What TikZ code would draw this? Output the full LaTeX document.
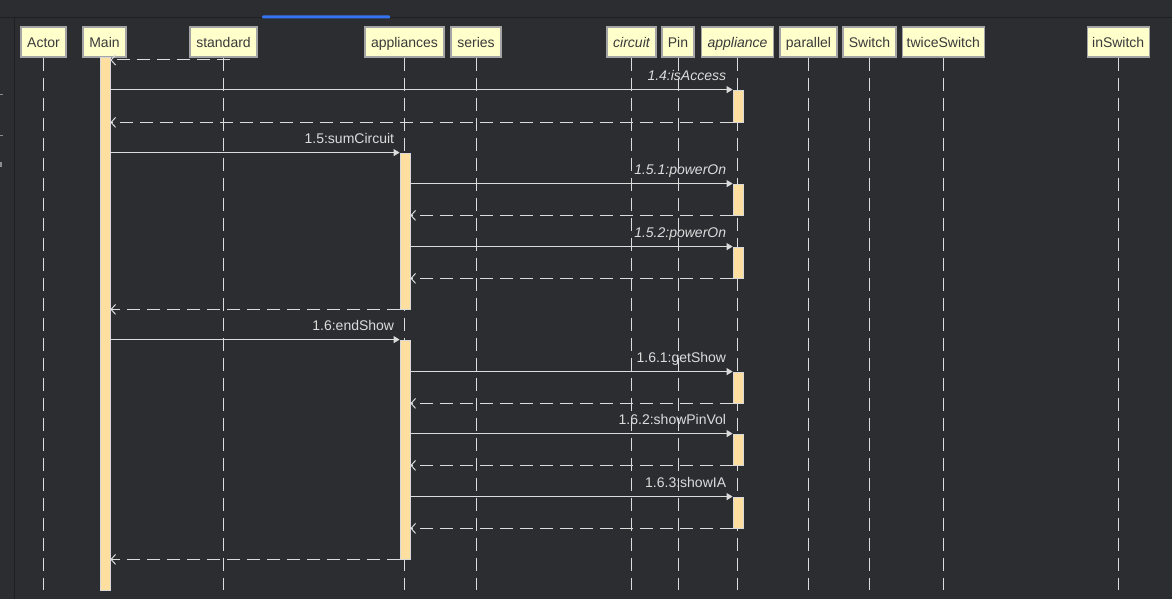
\documentclass[tikz,border=0pt]{standalone}
\usepackage{fontspec}
\setmainfont{Liberation Sans}
\usetikzlibrary{arrows.meta}
\definecolor{bg}{HTML}{2B2D30}
\definecolor{sep}{HTML}{1E1F22}
\definecolor{tabblue}{HTML}{3574F0}
\definecolor{hdrfill}{HTML}{FFFFCC}
\definecolor{hdrdraw}{HTML}{A4A4A4}
\definecolor{hdrtext}{HTML}{3A3A3A}
\definecolor{barfill}{HTML}{FFDFA0}
\definecolor{bardraw}{HTML}{D8D8D8}
\definecolor{linec}{HTML}{DCDCDC}
\definecolor{tickc}{HTML}{8A8C90}
\begin{document}
\begin{tikzpicture}[x=1pt,y=-1pt,font=\fontsize{14}{16}\selectfont,
  hdr/.style={draw=hdrdraw,line width=1.3pt,fill=hdrfill,text=hdrtext,minimum height=30,inner sep=0,text height=12pt,text depth=0pt},
  life/.style={draw=linec,line width=1pt,dash pattern=on 13pt off 7pt},
  actbar/.style={draw=bardraw,line width=0.8pt,fill=barfill,minimum width=10,inner sep=0},
  call/.style={draw=linec,line width=1pt,-{Triangle[length=6pt,width=7pt]}},
  ret/.style={draw=linec,line width=1pt,dash pattern=on 13pt off 7pt,-{Straight Barb[length=4.5pt,width=10pt]}},
  lbl/.style={text=linec,inner sep=0,anchor=base east,xshift=-6pt,yshift=9pt},
  ilbl/.style={lbl,font=\fontsize{14}{16}\selectfont\itshape}]
\useasboundingbox (0,0) rectangle (1172,599);
% window background
\fill[bg] (0,0) rectangle (1172,599);
\draw[sep,line width=1.6pt] (0,17.5) -- (1172,17.5);
\fill[tabblue,rounded corners=1pt] (262,15.5) rectangle (390,18.5);
\draw[sep,line width=1.2pt] (14.5,18.5) -- (14.5,599);
\draw[tickc,line width=1pt] (0,95) -- (3,95);
\draw[tickc,line width=1pt] (0,136) -- (3,136);
\draw[tickc,line width=1.5pt] (1,162) -- (1,167);
% headers
\node[hdr,minimum width=45] (actor) at (43.5,42) {Actor};
\node[hdr,minimum width=43] (main) at (104.5,42) {Main};
\node[hdr,minimum width=67] (standard) at (223.5,42) {standard};
\node[hdr,minimum width=79] (appls) at (404.5,42) {appliances};
\node[hdr,minimum width=50] (series) at (476,42) {series};
\node[hdr,minimum width=49] (circuit) at (631.5,42) {\itshape circuit};
\node[hdr,minimum width=32] (pin) at (678,42) {Pin};
\node[hdr,minimum width=72] (appl) at (737.5,42) {\itshape appliance};
\node[hdr,minimum width=57] (parallel) at (808.5,42) {parallel};
\node[hdr,minimum width=53] (switch) at (869.5,42) {Switch};
\node[hdr,minimum width=82] (twice) at (943.3,42) {twiceSwitch};
\node[hdr,minimum width=62] (inswitch) at (1118.2,42) {inSwitch};
% lifelines
\coordinate (bot) at (0,590);
\foreach \n in {actor,main,standard,appls,series,circuit,pin,appl,parallel,switch,twice,inswitch}
  \draw[life] (\n.south) -- (\n.south |- bot);
% activation bars
\node[actbar,minimum height=533] (mb) at (105,323.5) {};
\node[actbar,minimum height=156] (b1) at (405,231) {};
\node[actbar,minimum height=219] (b2) at (405,449.5) {};
\node[actbar,minimum height=32] (a1) at (738,106) {};
\node[actbar,minimum height=31] (a2) at (738,199.5) {};
\node[actbar,minimum height=31] (a3) at (738,262.5) {};
\node[actbar,minimum height=31] (a4) at (738,387.5) {};
\node[actbar,minimum height=31] (a5) at (738,449.5) {};
\node[actbar,minimum height=31] (a6) at (738,512.5) {};
% messages
\coordinate (s0) at (230,60);
\draw[ret] (s0) -- (mb.east |- s0);
\draw[call] (mb.east |- a1.north west) -- (a1.north west) node[ilbl] (l14) {1.4:isAccess};
\draw[ret] (a1.south west) -- (mb.east |- a1.south west);
\draw[call] (mb.east |- b1.north west) -- (b1.north west) node[lbl,xshift=1pt] (l15) {1.5:sumCircuit};
\draw[call] (b1.east |- a2.north west) -- (a2.north west) node[ilbl] (l151) {1.5.1:powerOn};
\draw[ret] (a2.south west) -- (b1.east |- a2.south west);
\draw[call] (b1.east |- a3.north west) -- (a3.north west) node[ilbl] (l152) {1.5.2:powerOn};
\draw[ret] (a3.south west) -- (b1.east |- a3.south west);
\draw[ret] (b1.south west) -- (mb.east |- b1.south west);
\draw[call] (mb.east |- b2.north west) -- (b2.north west) node[lbl,xshift=1pt] (l16) {1.6:endShow};
\draw[call] (b2.east |- a4.north west) -- (a4.north west) node[lbl] (l161) {1.6.1:getShow};
\draw[ret] (a4.south west) -- (b2.east |- a4.south west);
\draw[call] (b2.east |- a5.north west) -- (a5.north west) node[lbl] (l162) {1.6.2:showPinVol};
\draw[ret] (a5.south west) -- (b2.east |- a5.south west);
\draw[call] (b2.east |- a6.north west) -- (a6.north west) node[lbl] (l163) {1.6.3:showIA};
\draw[ret] (a6.south west) -- (b2.east |- a6.south west);
\draw[ret] (b2.south west) -- (mb.east |- b2.south west);
\end{tikzpicture}
\end{document}
